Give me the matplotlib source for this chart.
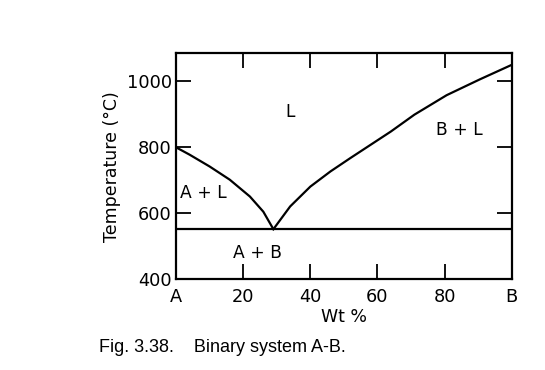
import matplotlib.pyplot as plt

# liquidus lines (Wt % B, temperature in C)
left_x = [0, 4, 10, 16, 22, 26, 29]
left_t = [800, 778, 742, 702, 651, 605, 552]
right_x = [29, 34, 40, 46, 52, 58, 64, 71, 80.6, 90.5, 100]
right_t = [552, 621, 681, 727, 768, 808, 848, 899, 958, 1006, 1050]
eutectic_t = 552

xticks = [0, 20, 40, 60, 80, 100]
xticklabels = ["A", "20", "40", "60", "80", "B"]
yticks = [400, 600, 800, 1000]

regions = ["L", "B + L", "A + L", "A + B"]
region_x = [34, 84.5, 8, 24.4]
region_t = [908, 854, 661, 481]

fig = plt.figure(figsize=(5.45, 3.7), dpi=100)
ax = fig.add_axes([0.323, 0.245, 0.616, 0.611])

ax.plot(left_x, left_t, color="black", linewidth=1.6)
ax.plot(right_x, right_t, color="black", linewidth=1.6)
ax.axhline(eutectic_t, color="black", linewidth=1.6)

for name, x, t in zip(regions, region_x, region_t):
    ax.text(x, t, name, ha="center", va="center", fontsize=12.3, family="DejaVu Sans")

ax.set_xlim(0, 100)
ax.set_ylim(400, 1085)
ax.set_xticks(xticks)
ax.set_xticklabels(xticklabels)
ax.set_yticks(yticks)
ax.tick_params(direction="in", length=11, width=1.3, labelsize=12.8, top=True, right=True)
ax.tick_params(axis="x", pad=6)
ax.tick_params(axis="y", pad=3)
for s in ax.spines.values():
    s.set_linewidth(1.6)

ax.set_xlabel("Wt %", fontsize=12.5, labelpad=2)
ax.set_ylabel("Temperature (\u00b0C)", fontsize=12.5, labelpad=4)

fig.text(0.182, 0.062, "Fig. 3.38.    Binary system A-B.", fontsize=13,
         family="Liberation Sans", va="center")

fig.savefig("out.png", dpi=100)
